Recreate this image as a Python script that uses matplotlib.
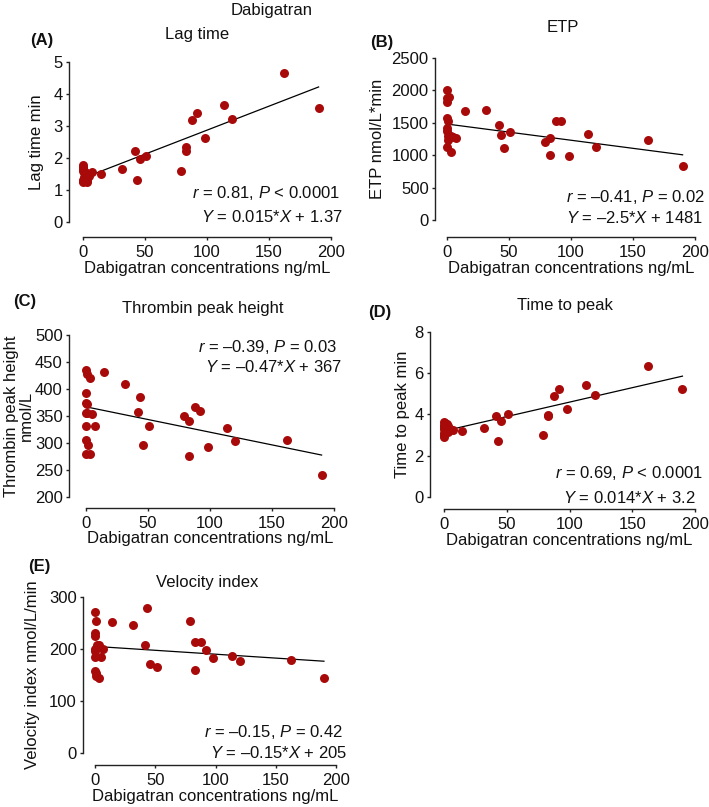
import matplotlib
matplotlib.use("Agg")
import matplotlib.pyplot as plt
import numpy as np

plt.rcParams['font.family'] = ['Liberation Sans', 'DejaVu Sans']
plt.rcParams['mathtext.fontset'] = 'custom'
plt.rcParams['mathtext.rm'] = 'Liberation Sans'
plt.rcParams['mathtext.it'] = 'Liberation Sans:italic'

# ---- data ----
conc = [0, 0, 0, 0, 0, 0, 0, 0.5, 1, 1, 2, 3, 3, 5, 7,
        14.3, 31.8, 41.8, 43.4, 45.8, 51.2, 79, 83, 83, 87.6, 91.9, 98.1,
        113.5, 120.2, 162.3, 190]

lag_time = [1.78, 1.72, 1.65, 1.6, 1.3, 1.25, 1.27, 1.55, 1.58, 1.4, 1.55, 1.25, 1.3, 1.45, 1.55,
            1.5, 1.66, 2.21, 1.32, 1.96, 2.06, 1.6, 2.33, 2.23, 3.18, 3.40, 2.63,
            3.67, 3.21, 4.67, 3.57]
etp = [2000, 1880, 1820, 1570, 1420, 1370, 1120, 1300, 1530, 1240, 1900, 1050, 1300, 1280, 1260,
       1675, 1691, 1459, 1314, 1108, 1361, 1196, 1258, 1005, 1521, 1521, 990,
       1325, 1129, 1227, 840]
peak_height = [435, 393, 374, 355, 331, 306, 279, 427, 355, 372, 297, 420, 279, 354, 331,
               432, 410, 357, 385, 297, 331, 350, 340, 276, 367, 360, 292,
               327, 303, 306, 241]
time_to_peak = [3.65, 3.5, 3.4, 3.3, 3.1, 3.0, 2.9, 3.2, 3.6, 3.35, 3.55, 3.45, 3.15, 3.3, 3.25,
                3.21, 3.33, 3.93, 2.73, 3.68, 4.04, 3.0, 3.97, 3.92, 4.89, 5.23, 4.25,
                5.41, 4.93, 6.36, 5.23]
velocity = [271, 230, 225, 200, 196, 185, 157, 153, 253, 148, 208, 144, 208, 184, 200,
            252, 247, 208, 279, 172, 165, 253, 213, 159, 213, 198, 182,
            186, 176, 178, 144]

titles = ["Lag time", "ETP", "Thrombin peak height", "Time to peak", "Velocity index"]
letters = ["(A)", "(B)", "(C)", "(D)", "(E)"]
ylabels = ["Lag time min", "ETP nmol/L*min", "Thrombin peak height\nnmol/L",
           "Time to peak min", "Velocity index nmol/L/min"]
slopes = [0.015, -2.5, -0.47, 0.014, -0.15]
intercepts = [1.37, 1481, 367, 3.2, 205]
r_texts = [r"$r$ = 0.81, $P$ < 0.0001", r"$r$ = –0.41, $P$ = 0.02", r"$r$ = –0.39, $P$ = 0.03",
           r"$r$ = 0.69, $P$ < 0.0001", r"$r$ = –0.15, $P$ = 0.42"]
eq_texts = [r"$Y$ = 0.015*$X$ + 1.37", r"$Y$ = –2.5*$X$ + 1481", r"$Y$ = –0.47*$X$ + 367",
            r"$Y$ = 0.014*$X$ + 3.2", r"$Y$ = –0.15*$X$ + 205"]
yticks = [[0, 1, 2, 3, 4, 5], [0, 500, 1000, 1500, 2000, 2500],
          [200, 250, 300, 350, 400, 450, 500], [0, 2, 4, 6, 8], [0, 100, 200, 300]]
xticks = [0, 50, 100, 150, 200]
xlabel = "Dabigatran concentrations ng/mL"
suptitle = "Dabigatran"
series = [lag_time, etp, peak_height, time_to_peak, velocity]

# ---- layout (pixels) ----
W, H = 709, 807
fig = plt.figure(figsize=(W / 100, H / 100), dpi=100)
PT = 0.72  # points per pixel at dpi 100

# (x0, x200, ytop, ybottom, y-spine x, x-spine y)
boxes = [(83, 331, 62, 222, 69, 237),
         (447, 695, 58, 220, 435, 237),
         (86, 334, 335, 497, 69, 508),
         (444, 695, 332, 497, 430, 509),
         (95, 336, 597, 753, 83, 765)]
title_pos = [(197, 35), (563, 28), (203, 308), (565, 305), (207, 582)]
letter_pos = [(30, 40), (370, 43), (13, 302), (368, 312), (28, 567)]
ylabel_x = [37, 378, 19, 402, 33]
xlabel_y = [268, 268, 539, 541, 796]
r_pos = [(340, 193), (705, 197), (337, 347), (703, 473), (343, 732)]
eq_pos = [(343, 217), (703, 218), (342, 367), (696, 498), (347, 753)]

def fx(px):
    return px / W

def fy(py):
    return 1 - py / H

fs = 12
red = "#A80A0A"
tc = "#111111"
for i in range(5):
    x0, x1, yt, yb, sx, sy = boxes[i]
    ax = fig.add_axes([fx(x0), fy(yb), (x1 - x0) / W, (yb - yt) / H])
    ax.set_facecolor("none")
    xv = np.array(conc)
    yv = np.array(series[i])
    ax.scatter(xv, yv, s=42, color=red, zorder=3, clip_on=False, linewidths=0)
    xl = np.array([min(conc), max(conc)])
    ax.plot(xl, slopes[i] * xl + intercepts[i], color="black", lw=0.9, zorder=2, clip_on=False)
    ax.set_xlim(0, 200)
    ax.set_ylim(yticks[i][0], yticks[i][-1])
    ax.set_xticks(xticks)
    ax.set_yticks(yticks[i])
    for s in ["top", "right"]:
        ax.spines[s].set_visible(False)
    ax.spines["left"].set_position(("outward", (x0 - sx) * PT))
    ax.spines["bottom"].set_position(("outward", (sy - yb) * PT))
    for s in ["left", "bottom"]:
        ax.spines[s].set_linewidth(1.0)
        ax.spines[s].set_color("#222222")
    ax.tick_params(axis="both", labelsize=fs, length=2.5, width=1.0, color="#222222",
                   labelcolor=tc)
    ax.tick_params(axis="x", pad=3.5)
    ax.tick_params(axis="y", pad=2)
    fig.text(fx((x0 + x1) / 2), fy(xlabel_y[i]), xlabel, fontsize=fs,
             ha="center", va="center", color=tc)
    fig.text(fx(ylabel_x[i]), fy((yt + yb) / 2), ylabels[i], rotation=90, fontsize=fs,
             ha="center", va="center", color=tc, linespacing=0.95)
    fig.text(fx(title_pos[i][0]), fy(title_pos[i][1]), titles[i], fontsize=fs,
             ha="center", va="center", color=tc)
    fig.text(fx(letter_pos[i][0]), fy(letter_pos[i][1]), letters[i], fontsize=fs,
             ha="left", va="center", fontweight="bold", color=tc)
    fig.text(fx(r_pos[i][0]), fy(r_pos[i][1]), r_texts[i], fontsize=fs,
             ha="right", va="center", color=tc)
    fig.text(fx(eq_pos[i][0]), fy(eq_pos[i][1]), eq_texts[i], fontsize=fs,
             ha="right", va="center", color=tc)

fig.text(fx(272), fy(10), suptitle, fontsize=fs, ha="center", va="center", color=tc)

fig.savefig("out.png", dpi=100)
